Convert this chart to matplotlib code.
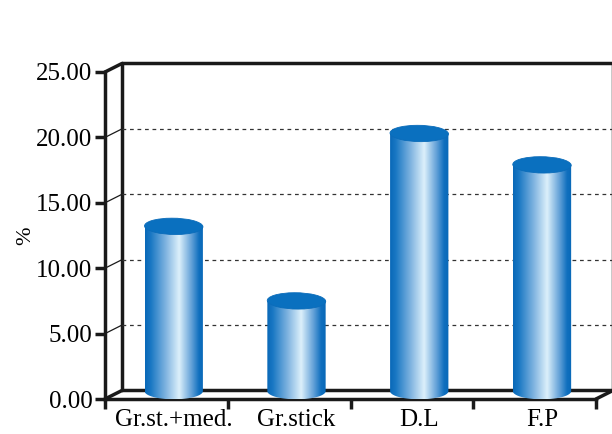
import numpy as np
import matplotlib.pyplot as plt
from matplotlib.patches import Ellipse, Polygon
from matplotlib.colors import LinearSegmentedColormap

categories = ['Gr.st.+med.', 'Gr.stick', 'D.L', 'F.P']
values = [12.6, 6.9, 19.7, 17.3]
yticks = [0, 5, 10, 15, 20, 25]

plt.rcParams['font.family'] = 'Liberation Serif'

fig = plt.figure(figsize=(6.12, 4.34), dpi=100)
ax = fig.add_axes([105/612, 35/434, 491/612, 327/434])
ax.set_xlim(0, 4)
ax.set_ylim(0, 25)

# depth offset of the back wall (data units)
dx, dy = 0.138, 0.65
centers = np.arange(4) + 0.5 + 0.06

# axes styling
for s in ['top', 'right']:
    ax.spines[s].set_visible(False)
for s in ['left', 'bottom']:
    ax.spines[s].set_linewidth(2.5)
    ax.spines[s].set_color('#1a1a1a')
ax.set_yticks(yticks)
ax.set_yticklabels(['%.2f' % v for v in yticks], fontsize=18)
ax.tick_params(axis='y', length=7, width=2.5, pad=2, color='#1a1a1a')
ax.set_xticks(range(5))
ax.set_xticklabels([])
ax.tick_params(axis='x', which='major', length=7, width=2.5, color='#1a1a1a')
ax.set_xticks(centers, minor=True)
ax.set_xticklabels(categories, minor=True, fontsize=18)
ax.tick_params(axis='x', which='minor', length=0, pad=7)
ax.set_ylabel('%', fontsize=16, labelpad=1)

# back wall and floor
kw = dict(color='#1a1a1a', clip_on=False, solid_capstyle='round')
ax.plot([dx, dx], [dy, 25 + dy], lw=2.5, **kw)
ax.plot([dx, 4 + dx], [25 + dy, 25 + dy], lw=2.5, **kw)
ax.plot([4 + dx, 4 + dx], [dy, 25 + dy], lw=2.5, **kw)
ax.plot([dx, 4 + dx], [dy, dy], lw=2.5, **kw)
ax.plot([0, dx], [0, dy], lw=2.5, **kw)
ax.plot([4, 4 + dx], [0, dy], lw=2.5, **kw)
ax.plot([0, dx], [25, 25 + dy], lw=2.5, **kw)
for v in yticks[1:-1]:
    ax.plot([0, dx], [v, v + dy], lw=0.9, **kw)
    ax.plot([dx, 4 + dx], [v + dy, v + dy], lw=0.9, ls=(0, (3, 3)),
            color='#333333', clip_on=False)

# cylinders
cmap = LinearSegmentedColormap.from_list('cyl', [
    (0.0, '#0868b8'), (0.1, '#1a78c4'), (0.35, '#7fb3e0'),
    (0.58, '#dcf0fb'), (0.8, '#5d9dd6'), (0.92, '#0f6fbe'), (1.0, '#0868b8')])
grad = np.linspace(0, 1, 256).reshape(1, -1)
w = 0.475
eh = 1.25
base = 0.6
for cx, v in zip(centers, values):
    x0, x1 = cx - w / 2, cx + w / 2
    top = base + v
    t = np.linspace(np.pi, 2 * np.pi, 60)
    bottom_pts = np.column_stack([cx + w / 2 * np.cos(t), base + eh / 2 * np.sin(t)])
    pts = np.vstack([[[x0, top]], bottom_pts, [[x1, top]]])
    clip = Polygon(pts, closed=True, transform=ax.transData, facecolor='none', edgecolor='none')
    ax.add_patch(clip)
    im = ax.imshow(grad, cmap=cmap, extent=[x0, x1, base - eh, top],
                   aspect='auto', zorder=3, interpolation='bilinear')
    im.set_clip_path(clip)
    ax.add_patch(Ellipse((cx, top), w, eh, angle=1.5, facecolor='#0a70bf',
                         edgecolor='#0a6cba', lw=0.6, zorder=4))

ax.set_xlim(0, 4)
ax.set_ylim(0, 25)
fig.savefig('out.png', dpi=100)
